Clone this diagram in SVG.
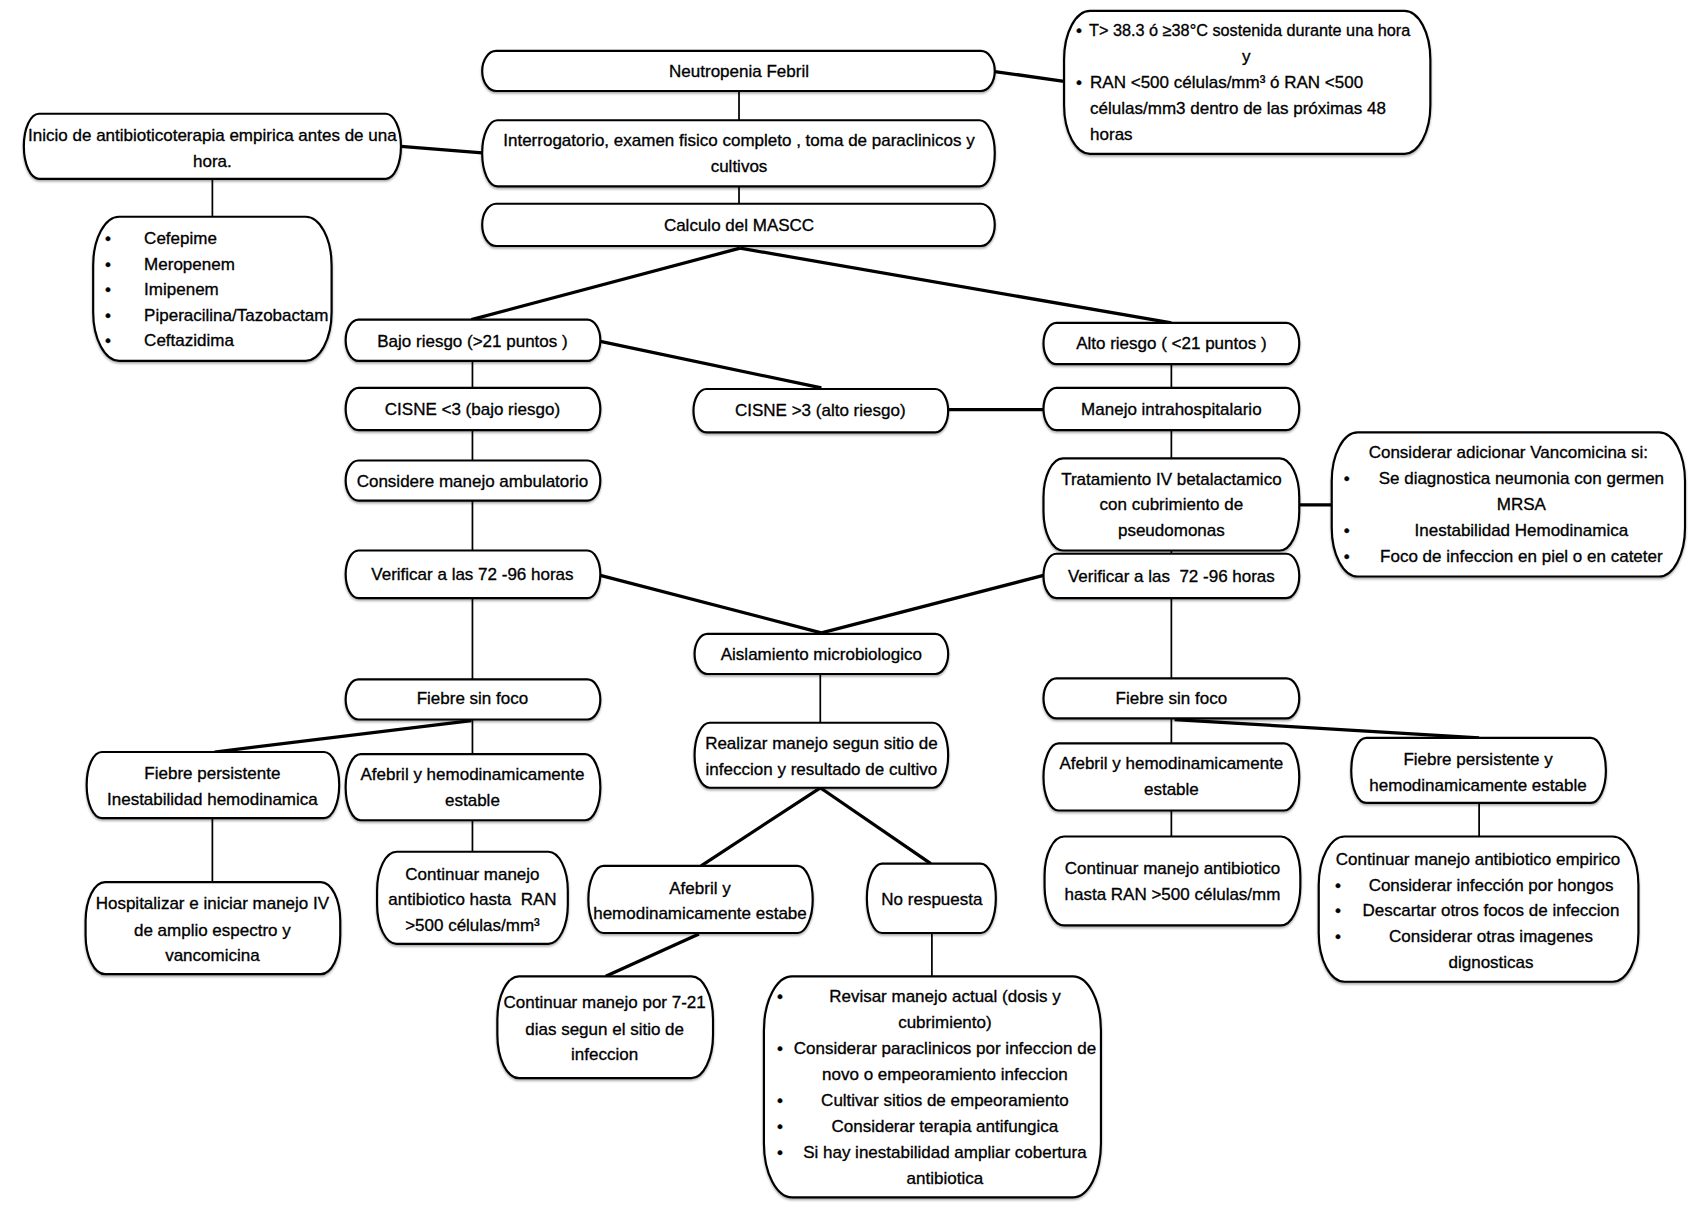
<svg xmlns="http://www.w3.org/2000/svg" width="1699" height="1216" viewBox="0 0 1699 1216">
<defs>
<filter id="sh" x="-5%" y="-10%" width="110%" height="130%">
<feDropShadow dx="0" dy="1.5" stdDeviation="1" flood-color="#000" flood-opacity="0.35"/>
</filter>
<style>
.b{fill:#fff;stroke:#000;stroke-width:2;filter:url(#sh)}
.t{font-family:"Liberation Sans",Arial,sans-serif;font-size:15.7px;fill:#000;stroke:#000;stroke-width:0.3;text-anchor:middle}
.l{text-anchor:start}
.thin{stroke:#000;stroke-width:1.6;fill:none}
.thick{stroke:#000;stroke-width:3;fill:none}
</style>
</defs>
<rect width="1699" height="1216" fill="#fff"/>
<g transform="scale(1.0836)">
<g id="connectors">
<line class="thin" x1="682" y1="84" x2="682" y2="111"/>
<line class="thick" x1="918" y1="66" x2="982" y2="75"/>
<line class="thick" x1="370" y1="135" x2="445" y2="141"/>
<line class="thin" x1="196" y1="165" x2="196" y2="200"/>
<line class="thin" x1="682" y1="172" x2="682" y2="188"/>
<line class="thick" x1="683" y1="229" x2="435" y2="295"/>
<line class="thick" x1="683" y1="229" x2="1081" y2="298"/>
<line class="thin" x1="436" y1="333" x2="436" y2="358"/>
<line class="thick" x1="554" y1="315" x2="758" y2="358"/>
<line class="thin" x1="1081" y1="336" x2="1081" y2="358"/>
<line class="thick" x1="875" y1="378" x2="963" y2="378"/>
<line class="thin" x1="436" y1="397" x2="436" y2="425"/>
<line class="thin" x1="1081" y1="397" x2="1081" y2="423"/>
<line class="thick" x1="1199" y1="466" x2="1229" y2="466"/>
<line class="thin" x1="436" y1="462" x2="436" y2="508"/>
<line class="thin" x1="1081" y1="508" x2="1081" y2="511"/>
<line class="thick" x1="554" y1="531" x2="758" y2="584"/>
<line class="thick" x1="963" y1="531" x2="758" y2="584"/>
<line class="thin" x1="436" y1="552" x2="436" y2="627"/>
<line class="thin" x1="757" y1="622" x2="757" y2="667"/>
<line class="thin" x1="1081" y1="552" x2="1081" y2="626"/>
<line class="thick" x1="435" y1="665" x2="198" y2="694"/>
<line class="thin" x1="436" y1="664" x2="436" y2="696"/>
<line class="thick" x1="1084" y1="664" x2="1365" y2="681"/>
<line class="thin" x1="1081" y1="663" x2="1081" y2="686"/>
<line class="thin" x1="196" y1="755" x2="196" y2="814"/>
<line class="thin" x1="436" y1="757" x2="436" y2="786"/>
<line class="thick" x1="757" y1="727" x2="647" y2="799"/>
<line class="thick" x1="757" y1="727" x2="859" y2="797"/>
<line class="thick" x1="645" y1="862" x2="559" y2="901"/>
<line class="thin" x1="860" y1="861" x2="860" y2="901"/>
<line class="thin" x1="1081" y1="748" x2="1081" y2="772"/>
<line class="thin" x1="1365" y1="741" x2="1365" y2="772"/>
</g>

<g id="n1"><rect class="b" x="445" y="47" width="473" height="37" rx="13" ry="18.5"/>
<text class="t" x="682" y="71">Neutropenia Febril</text></g>

<g id="n2"><rect class="b" x="982" y="10" width="338" height="132" rx="24" ry="45"/>
<text class="t l" x="993" y="33">•</text>
<text class="t l" x="1005" y="33" style="font-size:15px">T&gt; 38.3 ó ≥38°C sostenida durante una hora</text>
<text class="t" x="1150" y="57">y</text>
<text class="t l" x="993" y="81">•</text>
<text class="t l" x="1006" y="81">RAN &lt;500 células/mm³ ó RAN &lt;500</text>
<text class="t l" x="1006" y="105">células/mm3 dentro de las próximas 48</text>
<text class="t l" x="1006" y="129">horas</text></g>

<g id="n3"><rect class="b" x="445" y="111" width="473" height="61" rx="14" ry="30"/>
<text class="t" x="682" y="135">Interrogatorio, examen fisico completo , toma de paraclinicos y</text>
<text class="t" x="682" y="159">cultivos</text></g>

<g id="n4"><rect class="b" x="22" y="105" width="348" height="60" rx="14" ry="30"/>
<text class="t" x="196" y="130">Inicio de antibioticoterapia empirica antes de una</text>
<text class="t" x="196" y="154">hora.</text></g>

<g id="n5"><rect class="b" x="86" y="200" width="220" height="133" rx="24" ry="45"/>
<text class="t l" x="97" y="225">•</text><text class="t l" x="133" y="225">Cefepime</text>
<text class="t l" x="97" y="249">•</text><text class="t l" x="133" y="249">Meropenem</text>
<text class="t l" x="97" y="272">•</text><text class="t l" x="133" y="272">Imipenem</text>
<text class="t l" x="97" y="296">•</text><text class="t l" x="133" y="296">Piperacilina/Tazobactam</text>
<text class="t l" x="97" y="319">•</text><text class="t l" x="133" y="319">Ceftazidima</text></g>

<g id="n6"><rect class="b" x="445" y="188" width="473" height="39" rx="13" ry="19.5"/>
<text class="t" x="682" y="213">Calculo del MASCC</text></g>

<g id="n7"><rect class="b" x="319" y="295" width="235" height="38" rx="12" ry="19"/>
<text class="t" x="436" y="320">Bajo riesgo (&gt;21 puntos )</text></g>

<g id="n8"><rect class="b" x="963" y="298" width="236" height="38" rx="12" ry="19"/>
<text class="t" x="1081" y="322">Alto riesgo ( &lt;21 puntos )</text></g>

<g id="n9"><rect class="b" x="319" y="358" width="235" height="39" rx="12" ry="19.5"/>
<text class="t" x="436" y="383">CISNE &lt;3 (bajo riesgo)</text></g>

<g id="n10"><rect class="b" x="640" y="359" width="235" height="40" rx="12" ry="20"/>
<text class="t" x="757" y="384">CISNE &gt;3 (alto riesgo)</text></g>

<g id="n11"><rect class="b" x="963" y="358" width="236" height="39" rx="12" ry="19.5"/>
<text class="t" x="1081" y="383">Manejo intrahospitalario</text></g>

<g id="n12"><rect class="b" x="319" y="425" width="235" height="37" rx="12" ry="18.5"/>
<text class="t" x="436" y="449">Considere manejo ambulatorio</text></g>

<g id="n13"><rect class="b" x="963" y="423" width="236" height="85" rx="18" ry="36"/>
<text class="t" x="1081" y="448">Tratamiento IV betalactamico</text>
<text class="t" x="1081" y="471">con cubrimiento de</text>
<text class="t" x="1081" y="495">pseudomonas</text></g>

<g id="n14"><rect class="b" x="1229" y="399" width="326" height="133" rx="24" ry="45"/>
<text class="t" x="1392" y="423">Considerar adicionar Vancomicina si:</text>
<text class="t l" x="1240" y="447">•</text>
<text class="t" x="1404" y="447">Se diagnostica neumonia con germen</text>
<text class="t" x="1404" y="471">MRSA</text>
<text class="t l" x="1240" y="495">•</text>
<text class="t" x="1404" y="495">Inestabilidad Hemodinamica</text>
<text class="t l" x="1240" y="519">•</text>
<text class="t" x="1404" y="519">Foco de infeccion en piel o en cateter</text></g>

<g id="n15"><rect class="b" x="319" y="508" width="235" height="44" rx="12" ry="22"/>
<text class="t" x="436" y="535">Verificar a las 72 -96 horas</text></g>

<g id="n16"><rect class="b" x="963" y="511" width="236" height="41" rx="12" ry="20.5"/>
<text class="t" x="1081" y="537" xml:space="preserve">Verificar a las  72 -96 horas</text></g>

<g id="n17"><rect class="b" x="641" y="585" width="234" height="37" rx="12" ry="18.5"/>
<text class="t" x="758" y="609">Aislamiento microbiologico</text></g>

<g id="n18"><rect class="b" x="319" y="627" width="235" height="37" rx="12" ry="18.5"/>
<text class="t" x="436" y="650">Fiebre sin foco</text></g>

<g id="n19"><rect class="b" x="641" y="667" width="234" height="60" rx="14" ry="30"/>
<text class="t" x="758" y="691">Realizar manejo segun sitio de</text>
<text class="t" x="758" y="715">infeccion y resultado de cultivo</text></g>

<g id="n20"><rect class="b" x="963" y="626" width="236" height="37" rx="12" ry="18.5"/>
<text class="t" x="1081" y="650">Fiebre sin foco</text></g>

<g id="n21"><rect class="b" x="80" y="694" width="233" height="61" rx="14" ry="30"/>
<text class="t" x="196" y="719">Fiebre persistente</text>
<text class="t" x="196" y="743">Inestabilidad hemodinamica</text></g>

<g id="n22"><rect class="b" x="319" y="696" width="235" height="61" rx="14" ry="30"/>
<text class="t" x="436" y="720">Afebril y hemodinamicamente</text>
<text class="t" x="436" y="744">estable</text></g>

<g id="n23"><rect class="b" x="963" y="686" width="236" height="62" rx="14" ry="31"/>
<text class="t" x="1081" y="710">Afebril y hemodinamicamente</text>
<text class="t" x="1081" y="734">estable</text></g>

<g id="n24"><rect class="b" x="1247" y="681" width="235" height="60" rx="14" ry="30"/>
<text class="t" x="1364" y="706">Fiebre persistente y</text>
<text class="t" x="1364" y="730">hemodinamicamente estable</text></g>

<g id="n25"><rect class="b" x="79" y="814" width="235" height="85" rx="18" ry="36"/>
<text class="t" x="196" y="839">Hospitalizar e iniciar manejo IV</text>
<text class="t" x="196" y="864">de amplio espectro y</text>
<text class="t" x="196" y="887">vancomicina</text></g>

<g id="n26"><rect class="b" x="348" y="786" width="176" height="85" rx="18" ry="36"/>
<text class="t" x="436" y="812">Continuar manejo</text>
<text class="t" x="436" y="835" xml:space="preserve">antibiotico hasta  RAN</text>
<text class="t" x="436" y="859">&gt;500 células/mm³</text></g>

<g id="n27"><rect class="b" x="543" y="799" width="207" height="62" rx="14" ry="31"/>
<text class="t" x="646" y="825">Afebril y</text>
<text class="t" x="646" y="848">hemodinamicamente estabe</text></g>

<g id="n28"><rect class="b" x="800" y="797" width="119" height="64" rx="14" ry="32"/>
<text class="t" x="860" y="835">No respuesta</text></g>

<g id="n29"><rect class="b" x="964" y="772" width="236" height="82" rx="18" ry="36"/>
<text class="t" x="1082" y="807">Continuar manejo antibiotico</text>
<text class="t" x="1082" y="831">hasta RAN &gt;500 células/mm</text></g>

<g id="n30"><rect class="b" x="1217" y="772" width="295" height="134" rx="24" ry="45"/>
<text class="t" x="1364" y="798">Continuar manejo antibiotico empirico</text>
<text class="t l" x="1232" y="822">•</text>
<text class="t" x="1376" y="822">Considerar infección por hongos</text>
<text class="t l" x="1232" y="845">•</text>
<text class="t" x="1376" y="845">Descartar otros focos de infeccion</text>
<text class="t l" x="1232" y="869">•</text>
<text class="t" x="1376" y="869">Considerar otras imagenes</text>
<text class="t" x="1376" y="893">dignosticas</text></g>

<g id="n31"><rect class="b" x="459" y="901" width="199" height="94" rx="20" ry="40"/>
<text class="t" x="558" y="930">Continuar manejo por 7-21</text>
<text class="t" x="558" y="955">dias segun el sitio de</text>
<text class="t" x="558" y="978">infeccion</text></g>

<g id="n32"><rect class="b" x="705" y="901" width="311" height="204" rx="26" ry="50"/>
<text class="t l" x="717" y="925">•</text>
<text class="t" x="872" y="925">Revisar manejo actual (dosis y</text>
<text class="t" x="872" y="949">cubrimiento)</text>
<text class="t l" x="717" y="973">•</text>
<text class="t" x="872" y="973">Considerar paraclinicos por infeccion de</text>
<text class="t" x="872" y="997">novo o empeoramiento infeccion</text>
<text class="t l" x="717" y="1021">•</text>
<text class="t" x="872" y="1021">Cultivar sitios de empeoramiento</text>
<text class="t l" x="717" y="1045">•</text>
<text class="t" x="872" y="1045">Considerar terapia antifungica</text>
<text class="t l" x="717" y="1069">•</text>
<text class="t" x="872" y="1069">Si hay inestabilidad ampliar cobertura</text>
<text class="t" x="872" y="1093">antibiotica</text></g>
</g>
</svg>
